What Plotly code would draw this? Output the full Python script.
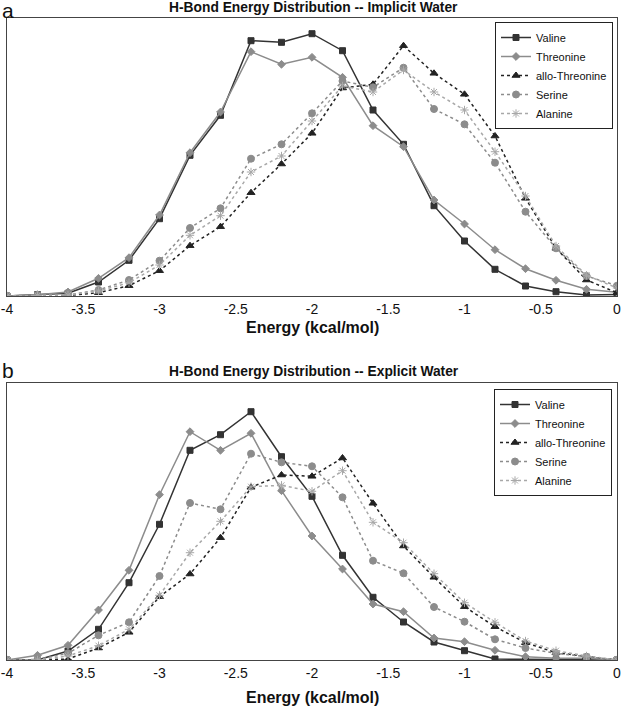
import plotly.graph_objects as go

energy = [-4.0, -3.8, -3.6, -3.4, -3.2, -3.0, -2.8, -2.6, -2.4, -2.2, -2.0,
          -1.8, -1.6, -1.4, -1.2, -1.0, -0.8, -0.6, -0.4, -0.2, 0.0]

# Panel a: implicit water (relative frequency, arbitrary units)
imp_valine = [0, 1.3, 2.7, 14, 35.7, 77.3, 140.7, 180.7, 255.3, 253.7, 262.3,
              245.3, 186, 151.7, 90.3, 55, 26.7, 10, 4.3, 1, 1.5]
imp_threonine = [0, 1.3, 4, 17.7, 38.3, 81, 143.3, 184, 244.3, 231.7, 238.7,
                 218.7, 170.3, 149.3, 96, 72, 46.3, 27.3, 15.7, 6.7, 3.7]
imp_allo = [0, 0.3, 0.5, 3.3, 10.3, 25.3, 50.3, 69.3, 103.3, 132, 162.7,
            208, 211.7, 250.3, 222.7, 201.7, 160, 97.7, 47.7, 16, 3.3]
imp_serine = [0, 1, 1, 6, 16, 35.3, 68, 87.7, 137.3, 151.7, 182.7,
              215, 208.7, 228.3, 187, 171.7, 133.3, 84.3, 47.7, 20, 10.3]
imp_alanine = [0, 0.5, 1, 5, 13.3, 31, 60.7, 80.3, 124, 140, 175,
               210, 204, 226, 204, 186, 144.3, 100, 50, 20.7, 8]

# Panel b: explicit water
exp_valine = [0, 0, 9, 30.7, 77.3, 135.7, 209.7, 225.3, 248.3, 203.3, 163.7,
              104.7, 62.7, 38, 18, 9.3, 1, 0.7, 0.3, 0, 0]
exp_threonine = [0, 4.7, 14.7, 50, 89.7, 165.3, 228.3, 209.7, 226.7, 169.3, 124,
                 91, 56, 48.3, 22, 18.3, 9.7, 3.3, 1.7, 1.7, 0]
exp_allo = [0, 0, 1, 12, 27.7, 63.3, 86, 122.3, 172.7, 185, 183.7,
            202, 156.7, 114, 82.7, 53.3, 33.3, 17.3, 7.3, 3.3, 0]
exp_serine = [0, 0.5, 6.7, 24.7, 37.7, 84, 157, 150.7, 206.3, 197.7, 193.7,
              162.7, 99.3, 86.7, 53, 38.3, 20.7, 12, 6.7, 3.3, 0]
exp_alanine = [0, 0, 4, 14.3, 30.7, 64.7, 107.3, 138.7, 173.3, 174.7, 168.7,
               189.3, 137.7, 117.3, 86.3, 57.3, 37.7, 19, 9.3, 4, 0]

names = ["Valine", "Threonine", "allo-Threonine", "Serine", "Alanine"]
tick_vals = [-4, -3.5, -3, -2.5, -2, -1.5, -1, -0.5, 0]
tick_text = ["-4", "-3.5", "-3", "-2.5", "-2", "-1.5", "-1", "-0.5", "0"]

styles = [
    dict(color="#333333", dash="solid", symbol="square", size=6, width=1.5),
    dict(color="#8c8c8c", dash="solid", symbol="diamond", size=6, width=1.5),
    dict(color="#222222", dash="dot", symbol="triangle-up", size=7, width=1.5),
    dict(color="#8c8c8c", dash="dot", symbol="circle", size=7, width=1.5),
    dict(color="#a8a8a8", dash="dot", symbol="asterisk-open", size=7, width=1.5),
]

fig = go.Figure()
panels = [
    ([imp_valine, imp_threonine, imp_allo, imp_serine, imp_alanine], "x", "y", "legend"),
    ([exp_valine, exp_threonine, exp_allo, exp_serine, exp_alanine], "x2", "y2", "legend2"),
]
for series, xa, ya, lg in panels:
    for name, vals, st in zip(names, series, styles):
        fig.add_trace(go.Scatter(
            x=energy, y=vals, name=name, mode="lines+markers",
            xaxis=xa, yaxis=ya, legend=lg,
            line=dict(color=st["color"], dash=st["dash"], width=st["width"]),
            marker=dict(symbol=st["symbol"], size=st["size"], color=st["color"],
                        line=dict(color=st["color"], width=1)),
        ))

W, H = 622, 707
xdom = [7 / W, 617 / W]
xaxis_common = dict(range=[-4, 0], tickvals=tick_vals, ticktext=tick_text,
                    showgrid=False, zeroline=False, showline=True, mirror=True,
                    linecolor="#444444", linewidth=1, ticks="",
                    tickfont=dict(family="Arial", size=14, color="#111111"),
                    domain=xdom, automargin=False)
yaxis_common = dict(showgrid=False, zeroline=False, showline=True, mirror=True,
                    linecolor="#444444", linewidth=1, showticklabels=False,
                    ticks="", automargin=False)

legend_common = dict(bgcolor="white", bordercolor="#222222", borderwidth=1,
                     font=dict(family="Arial", size=11, color="#111111"),
                     xanchor="right", yanchor="top", tracegroupgap=0,
                     itemwidth=30)

fig.update_layout(
    width=W, height=H, margin=dict(l=0, r=0, t=0, b=0),
    plot_bgcolor="white", paper_bgcolor="white",
    xaxis=dict(**xaxis_common, anchor="y"),
    yaxis=dict(**yaxis_common, range=[0, 278], domain=[1 - 296 / H, 1 - 18 / H], anchor="x"),
    xaxis2=dict(**xaxis_common, anchor="y2"),
    yaxis2=dict(**yaxis_common, range=[0, 277], domain=[1 - 660 / H, 1 - 383 / H], anchor="x2"),
    legend=dict(**legend_common, x=613 / W, y=1 - 22 / H),
    legend2=dict(**legend_common, x=612 / W, y=1 - 389 / H),
    showlegend=True,
)

ann = [
    dict(text="a", x=0, y=1 + 3 / H, xanchor="left", yanchor="top", size=21),
    dict(text="b", x=0, y=1 - 357 / H, xanchor="left", yanchor="top", size=21),
    dict(text="<b>H-Bond Energy Distribution -- Implicit Water</b>", x=314 / W, y=1 - 8 / H,
         xanchor="center", yanchor="middle", size=13.8),
    dict(text="<b>H-Bond Energy Distribution -- Explicit Water</b>", x=314 / W, y=1 - 371 / H,
         xanchor="center", yanchor="middle", size=13.8),
    dict(text="<b>Energy (kcal/mol)</b>", x=312 / W, y=1 - 327 / H,
         xanchor="center", yanchor="middle", size=16),
    dict(text="<b>Energy (kcal/mol)</b>", x=312 / W, y=1 - 697 / H,
         xanchor="center", yanchor="middle", size=16),
]
for a in ann:
    fig.add_annotation(text=a["text"], x=a["x"], y=a["y"], xref="paper", yref="paper",
                       xanchor=a["xanchor"], yanchor=a["yanchor"], showarrow=False,
                       font=dict(family="Arial", size=a["size"], color="#111111"))

fig.write_html("out.html", config={"displayModeBar": False},
               post_script="document.body.style.margin='0';")
